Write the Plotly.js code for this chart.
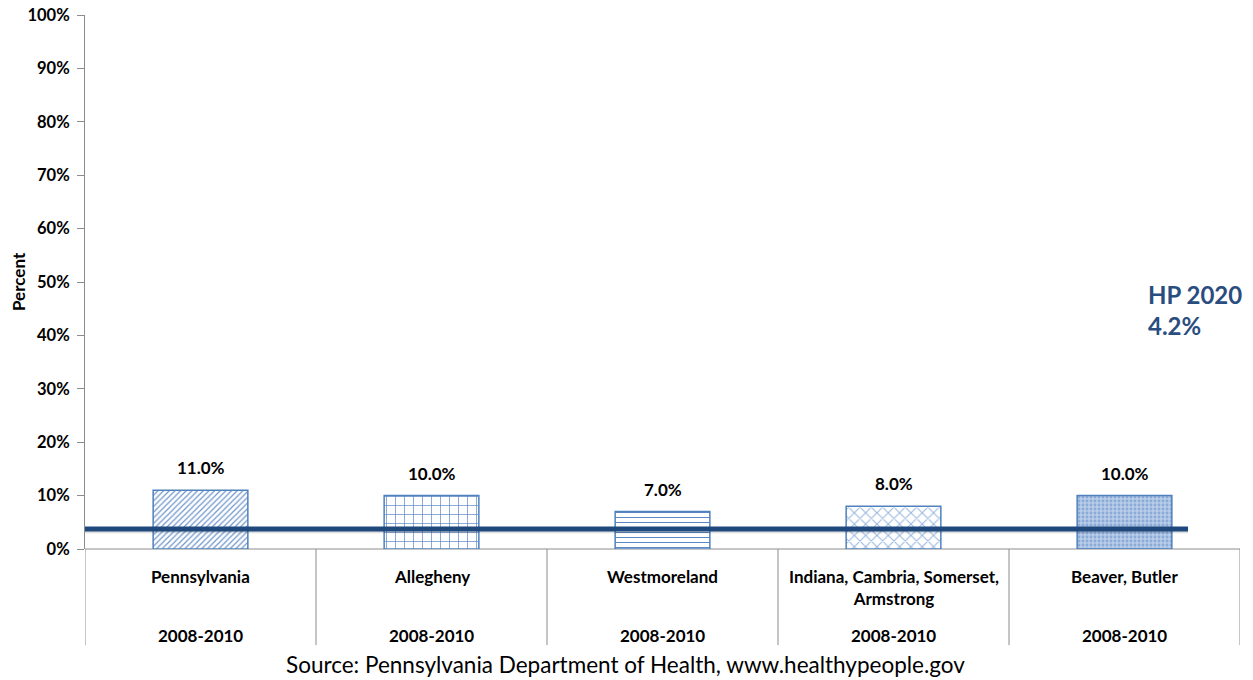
<!DOCTYPE html>
<html>
<head>
<meta charset="utf-8">
<script src="https://cdn.plot.ly/plotly-3.0.1.min.js"></script>
<style>html,body{margin:0;padding:0;background:#fff;}#chart{width:1253px;height:680px;}</style>
</head>
<body>
<div id="chart"></div>
<script>
const regions = ["Pennsylvania", "Allegheny", "Westmoreland", "Indiana, Cambria, Somerset,<br>Armstrong", "Beaver, Butler"];
const periods = ["2008-2010", "2008-2010", "2008-2010", "2008-2010", "2008-2010"];
const values = [11.0, 10.0, 7.0, 8.0, 10.0];
const valueLabels = ["11.0%", "10.0%", "7.0%", "8.0%", "10.0%"];
const hpTarget = 3.75;
const hpLabel = ["HP 2020", "4.2%"];
const yTicks = [0,10,20,30,40,50,60,70,80,90,100];
const yTickText = ["0%","10%","20%","30%","40%","50%","60%","70%","80%","90%","100%"];

const patterns = [
  {shape: "/", fg: "#6f96cd", bg: "#ffffff", size: 4, sol: 0.3},
  {shape: "+", fg: "#5b87c5", bg: "#ffffff", size: 9, sol: 0.15},
  {shape: "-", fg: "#5b87c5", bg: "#ffffff", size: 5, sol: 0.2},
  {shape: "x", fg: "#9ab8e0", bg: "#ffffff", size: 8, sol: 0.25},
  {shape: ".", fg: "#8aaad8", bg: "#b9cce8", size: 4, sol: 0.4}
];

const xs = regions.map((_, i) => i + 0.5);
const font = "Lato, 'Liberation Sans', sans-serif";

const traces = regions.map((r, i) => ({
  type: "bar",
  x: [xs[i]],
  y: [values[i]],
  width: 0.41,
  marker: {
    color: patterns[i].bg,
    line: {color: "#4f81bd", width: 1.5},
    pattern: {shape: patterns[i].shape, fgcolor: patterns[i].fg, bgcolor: patterns[i].bg, size: patterns[i].size, solidity: patterns[i].sol}
  },
  hoverinfo: "skip",
  showlegend: false
}));

// shadow of HP line
traces.push({
  type: "scatter", mode: "lines",
  x: [0, 4.775], y: [hpTarget - 0.35, hpTarget - 0.35],
  line: {color: "rgba(0,0,0,0.13)", width: 5},
  hoverinfo: "skip", showlegend: false
});
traces.push({
  type: "scatter", mode: "lines",
  x: [0, 4.775], y: [hpTarget, hpTarget],
  line: {color: "#1f497d", width: 5},
  hoverinfo: "skip", showlegend: false
});

const annotations = [];
regions.forEach((r, i) => {
  annotations.push({x: xs[i], y: values[i], xref: "x", yref: "y", yshift: 10, yanchor: "bottom",
    text: "<b>" + valueLabels[i] + "</b>", showarrow: false, font: {family: font, size: 17, color: "#000"}});
  annotations.push({x: xs[i], y: 0, xref: "x", yref: "paper", yshift: r.includes("<br>") ? -38.5 : -27, text: "<b>" + r + "</b>",
    showarrow: false, font: {family: font, size: 17, color: "#000"}, yanchor: "middle"});
  annotations.push({x: xs[i], y: 0, xref: "x", yref: "paper", yshift: -86, text: "<b>" + periods[i] + "</b>",
    showarrow: false, font: {family: font, size: 17, color: "#000"}, yanchor: "middle"});
});
annotations.push({x: 0.919, y: 0.448, xref: "paper", yref: "paper", xanchor: "left", yanchor: "middle",
  text: "<b>" + hpLabel[0] + "</b><br><b>" + hpLabel[1] + "</b>", align: "left", showarrow: false,
  font: {family: font, size: 24, color: "#2a4d80"}});
annotations.push({x: 0.468, y: 0, xref: "paper", yref: "paper", yshift: -115, xanchor: "center", yanchor: "middle",
  text: "Source: Pennsylvania Department of Health, www.healthypeople.gov", showarrow: false,
  font: {family: font, size: 22.5, color: "#000"}});
annotations.push({x: 0, y: 0.5, xref: "paper", yref: "paper", xshift: -67, text: "<b>Percent</b>", textangle: -90,
  showarrow: false, font: {family: font, size: 17, color: "#000"}, xanchor: "center", yanchor: "middle"});

const shapes = [];
for (let i = 0; i <= regions.length; i++) {
  shapes.push({type: "line", xref: "x", yref: "paper", x0: i, x1: i, y0: 0, y1: -0.18, line: {color: "#8c8c8c", width: 1}});
}
shapes.push({type: "line", xref: "x", yref: "paper", x0: 0, x1: regions.length, y0: 0, y1: 0, line: {color: "#8c8c8c", width: 1}, layer: "below"});

const layout = {
  width: 1253, height: 680,
  margin: {l: 85, r: 13, t: 15, b: 131},
  paper_bgcolor: "#fff", plot_bgcolor: "#fff",
  font: {family: font},
  xaxis: {range: [0, regions.length], showticklabels: false, showgrid: false, zeroline: false, showline: false, ticks: "", fixedrange: true},
  yaxis: {range: [0, 100], tickvals: yTicks, ticktext: yTickText, showgrid: false, zeroline: false,
    showline: true, linecolor: "#8c8c8c", linewidth: 1, ticks: "outside", ticklen: 7, tickcolor: "#8c8c8c",
    tickfont: {family: font, size: 16.5, color: "#000", weight: "bold"}, ticklabelstandoff: 4},
  annotations: annotations,
  shapes: shapes,
  bargap: 0, showlegend: false
};

Plotly.newPlot("chart", traces, layout, {displayModeBar: false, staticPlot: true});
</script>
</body>
</html>
